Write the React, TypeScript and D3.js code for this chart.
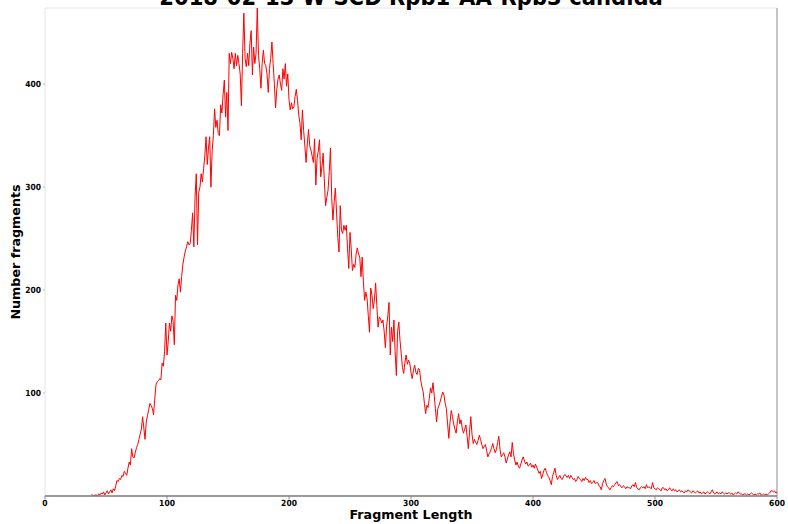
import React from "react";
import * as d3 from "d3";

const TITLE = "2018-02-13-W-SCD Rpb1-AA-Rpb3 candida";
const X_LABEL = "Fragment Length";
const Y_LABEL = "Number fragments";
const X_TICKS = [0, 100, 200, 300, 400, 500, 600];
const Y_TICKS = [100, 200, 300, 400];
const START_LENGTH = 38;
// Number of fragments for each fragment length, starting at START_LENGTH (38..600)
const COUNTS = [
  1, 1, 0, 1, 1, 0, 2, 1, 3, 2, 4, 1,
  3, 5, 2, 4, 6, 3, 7, 5, 10, 15,
  14, 17, 16, 20, 19, 24, 22, 20, 27, 33,
  30, 46, 38, 37, 42, 47, 50, 55, 60, 65,
  77, 66, 55, 72, 78, 84, 90, 88, 85, 79,
  95, 108, 111, 112, 114, 113, 129, 126, 140, 168,
  137, 150, 168, 160, 175, 170, 147, 195, 190, 205,
  211, 198, 213, 225, 232, 238, 242, 247, 244, 245,
  258, 275, 242, 290, 313, 244, 295, 300, 313, 305,
  318, 330, 349, 322, 338, 349, 300, 335, 350, 376,
  358, 365, 352, 350, 380, 372, 390, 404, 368, 392,
  355, 430, 420, 431, 425, 415, 430, 418, 428, 420,
  410, 379, 430, 469, 425, 417, 430, 418, 440, 452,
  409, 436, 420, 430, 474, 428, 415, 396, 420, 433,
  420, 418, 410, 392, 415, 425, 441, 420, 400, 377,
  395, 405, 409, 400, 394, 415, 405, 420, 398, 410,
  385, 375, 382, 376, 378, 388, 395, 384, 370, 362,
  346, 375, 355, 340, 324, 342, 356, 340, 336, 330,
  324, 347, 302, 328, 335, 346, 310, 320, 333, 305,
  282, 290, 297, 315, 338, 290, 268, 285, 299, 275,
  251, 237, 282, 258, 255, 263, 258, 263, 240, 221,
  256, 240, 219, 225, 222, 235, 241, 235, 232, 213,
  232, 208, 190, 198, 192, 175, 159, 202, 195, 182,
  190, 207, 185, 164, 174, 172, 168, 171, 160, 144,
  165, 175, 188, 137, 164, 150, 171, 140, 117, 160,
  169, 151, 138, 125, 119, 130, 137, 128, 132, 129,
  120, 114, 122, 127, 120, 118, 124, 123, 112, 106,
  101, 90, 80, 88, 86, 95, 105, 100, 110, 98,
  85, 72, 85, 88, 92, 97, 101, 98, 90, 85,
  70, 56, 72, 83, 77, 70, 65, 61, 72, 80,
  70, 74, 66, 61, 65, 69, 58, 46, 62, 77,
  60, 51, 55, 52, 50, 54, 59, 55, 50, 46,
  48, 50, 44, 38, 41, 43, 47, 51, 46, 42,
  45, 52, 58, 45, 38, 40, 42, 38, 32, 36,
  40, 43, 38, 52, 41, 35, 30, 33, 29, 27,
  31, 35, 38, 34, 31, 33, 29, 30, 32, 28,
  30, 27, 31, 28, 25, 22, 24, 17, 21, 25,
  27, 23, 20, 18, 15, 11, 19, 23, 27, 20,
  16, 18, 20, 17, 16, 19, 21, 20, 18, 20,
  17, 20, 18, 16, 17, 14, 16, 19, 17, 16,
  14, 17, 15, 18, 16, 16, 13, 15, 12, 13,
  15, 12, 13, 13, 10, 9, 6, 12, 15, 17,
  12, 9, 8, 6, 8, 10, 9, 11, 13, 14,
  10, 11, 9, 8, 10, 9, 7, 9, 8, 8,
  7, 10, 11, 9, 13, 8, 7, 6, 8, 9,
  8, 9, 7, 11, 8, 9, 8, 7, 13, 8,
  7, 6, 8, 7, 6, 5, 8, 8, 6, 7,
  5, 6, 8, 6, 5, 7, 5, 6, 4, 5,
  6, 4, 5, 4, 3, 5, 4, 6, 5, 4,
  3, 5, 4, 3, 4, 5, 3, 4, 2, 3,
  4, 2, 3, 4, 3, 2, 4, 6, 3, 2,
  3, 4, 2, 3, 2, 4, 3, 2, 3, 2,
  3, 3, 2, 3, 1, 2, 3, 2, 4, 3,
  2, 2, 1, 2, 2, 1, 2, 1, 2, 3,
  2, 1, 2, 1, 2, 2, 3, 1, 1, 2,
  1, 2, 1, 2, 3, 5, 5, 4, 5, 3,
  4,
];

const W = 788;
const H = 524;
const M = { left: 45, right: 777, top: 8, bottom: 496 };
const FONT = "'DejaVu Sans', sans-serif";

export default function App() {
  const data = COUNTS.map((v, i) => ({ len: START_LENGTH + i, n: v }));
  const x = d3.scaleLinear().domain([0, 600]).range([M.left, M.right]);
  const y = d3
    .scaleLinear()
    .domain([0, d3.max(COUNTS) as number])
    .range([M.bottom, M.top]);
  const line = d3
    .line<{ len: number; n: number }>()
    .x((d) => x(d.len))
    .y((d) => y(d.n));
  const cx = (M.left + M.right) / 2;

  return (
    <svg
      width={W}
      height={H}
      style={{ position: "absolute", left: 0, top: 0, background: "#fff" }}
      fontFamily={FONT}
    >
      <rect x={0} y={0} width={W} height={H} fill="#fff" />
      {/* frame */}
      <line x1={M.left} x2={M.right} y1={M.top} y2={M.top} stroke="#e6e6e6" strokeWidth={1} />
      <line x1={M.left} x2={M.left} y1={M.top} y2={M.bottom} stroke="#e6e6e6" strokeWidth={1} />
      <line x1={M.right} x2={M.right} y1={M.top} y2={M.bottom} stroke="#8a8a8a" strokeWidth={1} />
      <path d={line(data) || ""} fill="none" stroke="#ff0000" strokeWidth={1} strokeLinejoin="round" />
      <line x1={M.left} x2={M.right} y1={M.bottom} y2={M.bottom} stroke="#7a7a7a" strokeWidth={1.5} />
      {/* x ticks */}
      {X_TICKS.map((t) => (
        <g key={"x" + t}>
          <line x1={x(t)} x2={x(t)} y1={M.bottom} y2={M.bottom + 3} stroke="#888" strokeWidth={1} />
          <g transform={`translate(${x(t)},506) scale(0.9,1)`}>
            <text textAnchor="middle" fontSize={8.4} fontWeight="bold" fill="#000">
              {t}
            </text>
          </g>
        </g>
      ))}
      {/* y ticks */}
      {Y_TICKS.map((t) => (
        <g key={"y" + t}>
          <line x1={M.left - 2} x2={M.left} y1={y(t)} y2={y(t)} stroke="#bbb" strokeWidth={1} />
          <g transform={`translate(${M.left - 4},${y(t) + 3}) scale(0.9,1)`}>
            <text textAnchor="end" fontSize={8.4} fontWeight="bold" fill="#000">
              {t}
            </text>
          </g>
        </g>
      ))}
      {/* axis labels */}
      <text x={cx} y={519} textAnchor="middle" fontSize={12.7} fontWeight="bold" fill="#000">
        {X_LABEL}
      </text>
      <text
        transform={`translate(20,${(M.top + M.bottom) / 2}) rotate(-90)`}
        textAnchor="middle"
        fontSize={12.7}
        fontWeight="bold"
        fill="#000"
      >
        {Y_LABEL}
      </text>
      <g transform={`translate(${cx},5) scale(0.9,1)`}>
        <text textAnchor="middle" fontSize={23.5} fontWeight="bold" fill="#000">
          {TITLE}
        </text>
      </g>
    </svg>
  );
}
